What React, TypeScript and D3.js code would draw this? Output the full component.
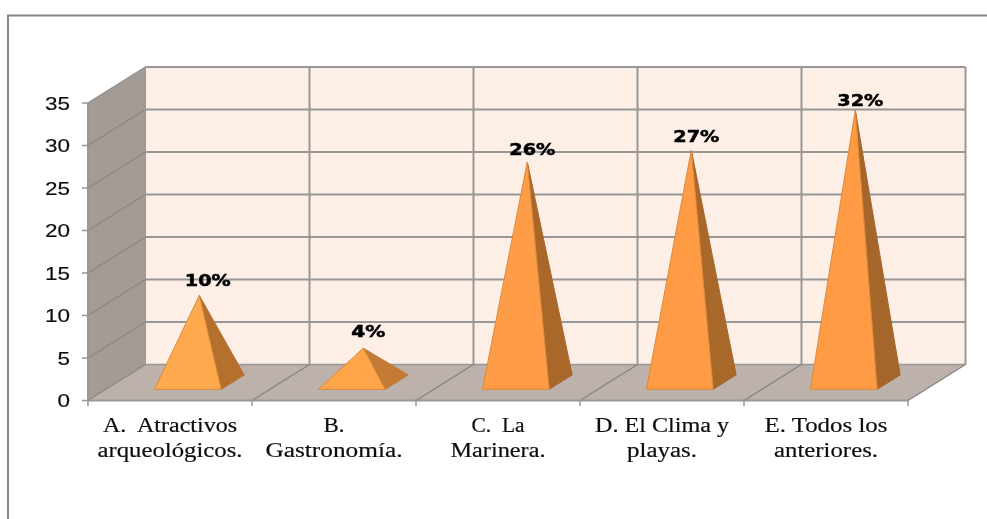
import React from "react";
import * as d3 from "d3";

const categories = ["A", "B", "C", "D", "E"];
const values = [10.2, 4, 25.9, 27.3, 32];
const valueLabels = ["10%", "4%", "26%", "27%", "32%"];
const yTicks = [0, 5, 10, 15, 20, 25, 30, 35];
const labelLines = [
  ["A.  Atractivos", "arqueológicos."],
  ["B.", "Gastronomía."],
  ["C.  La", "Marinera."],
  ["D. El Clima y", "playas."],
  ["E. Todos los", "anteriores."],
];

// layout constants
const lineWidths = [[134, 145], [21, 137], [53, 95], [134, 70], [123, 104]];
const labelDx = [8.5, 5, 5, 5, 5];
const labelDy = [-9, -11, -7, -8, -4];
const frontColors = ["#FFA94F", "#FFA549", "#FF9C46", "#FF9B45", "#FF9A45"];
const sideColors = ["#B5702F", "#C27A35", "#A9682C", "#A7672C", "#A4662B"];

const W = 987, H = 519;
const x0 = 88, x1 = 908, yBase = 400.5, yTop = 103;
const depthX = 57.5, depthY = -36;
const grid = "#979797";

const x = d3.scaleBand<string>().domain(categories).range([x0, x1]);
const y = d3.scaleLinear().domain([0, 35]).range([yBase, yTop]);
const bandEdges = categories.map((c) => x(c) as number).concat(x1);
const poly = d3.line<[number, number]>().x((d) => d[0]).y((d) => d[1]);
const closed = (pts: [number, number][]) => (poly(pts) as string) + "Z";

// project a point (plot x, plot y, depth 0..1)
const P = (px: number, py: number, depth: number): [number, number] => [
  px + depth * depthX,
  py + depth * depthY,
];

const baseWidth = x.bandwidth() * 0.407;
const depthNear = 0.31, depthFar = 0.71;

export default function App() {
  return (
    <svg
      width={W}
      height={H}
      viewBox={`0 0 ${W} ${H}`}
      style={{ position: "absolute", left: 0, top: 0, background: "#fff" }}
    >
      <defs>
        <filter id="soft" x="0" y="0" width="100%" height="100%" filterUnits="userSpaceOnUse" primitiveUnits="userSpaceOnUse">
          <feGaussianBlur stdDeviation="0.45" />
        </filter>
      </defs>
      <g filter="url(#soft)">
        {/* outer frame */}
        <path d={`M8,${H + 5} V15.5 H${W + 5}`} fill="none" stroke="#868686" strokeWidth={2} />

        {/* side wall, floor, back wall */}
        <path
          d={closed([P(x0, yBase, 0), P(x0, yTop, 0), P(x0, yTop, 1), P(x0, yBase, 1)])}
          fill="#A39B96"
        />
        <path
          d={closed([P(x0, yBase, 0), P(x1, yBase, 0), P(x1, yBase, 1), P(x0, yBase, 1)])}
          fill="#BDB1AC"
        />
        <path
          d={closed([P(x0, yTop, 1), P(x1, yTop, 1), P(x1, yBase, 1), P(x0, yBase, 1)])}
          fill="#FDEEE6"
        />

        {/* gridlines */}
        {yTicks.map((t) => {
          const a = P(x0, y(t), 0), b = P(x0, y(t), 1), c = P(x1, y(t), 1);
          return (
            <g key={t} fill="none" stroke={grid}>
              <path d={poly([a, b]) as string} strokeWidth={1.4} stroke="#8a8886" />
              <path d={poly([b, c]) as string} strokeWidth={t === 0 ? 1.5 : 2} />
            </g>
          );
        })}
        {bandEdges.map((e, i) => {
          const a = P(e, yBase, 0), b = P(e, yBase, 1), c = P(e, yTop, 1);
          return (
            <g key={i} fill="none" stroke={grid}>
              {i > 0 && <path d={poly([a, b]) as string} strokeWidth={1.3} stroke="#858280" />}
              {i > 0 && <path d={poly([b, c]) as string} strokeWidth={2} />}
            </g>
          );
        })}
        <path d={poly([P(x0, yTop, 1), P(x0, yBase, 1)]) as string} stroke={grid} strokeWidth={1} />
        <path d={poly([P(x0, yTop, 0), P(x0, yTop, 1)]) as string} stroke={grid} strokeWidth={1} />

        {/* axes */}
        <path d={`M${x0},${yTop} V${yBase}`} stroke={grid} strokeWidth={2} fill="none" />
        <path d={`M${x0 - 1},${yBase} H${x1 + 1}`} stroke={grid} strokeWidth={2} fill="none" />
        {yTicks.map((t) => (
          <path key={t} d={`M${x0 - 6},${y(t)} H${x0}`} stroke={grid} strokeWidth={1.5} />
        ))}
        {bandEdges.map((e, i) => (
          <path key={i} d={`M${e},${yBase} V${yBase + 5.5}`} stroke={grid} strokeWidth={1.5} />
        ))}

        {/* y tick labels */}
        {yTicks.map((t) => (
          <text
            key={t}
            x={70}
            y={y(t) + 6.5}
            textAnchor="end"
            fontFamily="'Liberation Sans', Arial, sans-serif"
            fontSize={18.5}
            fill="#111"
            stroke="#111"
            strokeWidth={0.2}
            textLength={t < 10 ? 12.5 : 25}
            lengthAdjust="spacingAndGlyphs"
          >
            {t}
          </text>
        ))}

        {/* pyramids */}
        {categories.map((c, i) => {
          const cx = (x(c) as number) + x.bandwidth() / 2;
          const fl = P(cx - baseWidth / 2, yBase, depthNear);
          const fr = P(cx + baseWidth / 2, yBase, depthNear);
          const br = P(cx + baseWidth / 2, yBase, depthFar);
          const apex = P(cx, y(values[i]), (depthNear + depthFar) / 2);
          return (
            <g key={c} strokeLinejoin="round">
              <path d={closed([fr, br, apex])} fill={sideColors[i]} stroke={sideColors[i]} strokeWidth={1} />
              <path d={closed([fl, fr, apex])} fill={frontColors[i]} stroke="#D98A3A" strokeWidth={1} />
            </g>
          );
        })}

        {/* value labels */}
        {categories.map((c, i) => {
          const cx = (x(c) as number) + x.bandwidth() / 2;
          const apex = P(cx, y(values[i]), (depthNear + depthFar) / 2);
          return (
            <text
              key={c}
              x={apex[0] + labelDx[i]}
              y={apex[1] + labelDy[i]}
              textAnchor="middle"
              fontFamily="'DejaVu Sans', sans-serif"
              fontWeight="bold"
              fontSize={16}
              fill="#000"
              stroke="#000"
              strokeWidth={0.5}
              textLength={values[i] < 10 ? 34 : 46}
              lengthAdjust="spacingAndGlyphs"
            >
              {valueLabels[i]}
            </text>
          );
        })}

        {/* category labels */}
        {categories.map((c, i) =>
          labelLines[i].map((line, j) => (
            <text
              key={c + j}
              x={(x(c) as number) + x.bandwidth() / 2}
              y={432 + j * 24.5}
              textAnchor="middle"
              fontFamily="'Liberation Serif', 'Times New Roman', serif"
              fontSize={20.5}
              fill="#111"
              stroke="#111"
              strokeWidth={0.2}
              textLength={lineWidths[i][j]}
              lengthAdjust="spacingAndGlyphs"
              xmlSpace="preserve"
            >
              {line}
            </text>
          ))
        )}
      </g>
    </svg>
  );
}
